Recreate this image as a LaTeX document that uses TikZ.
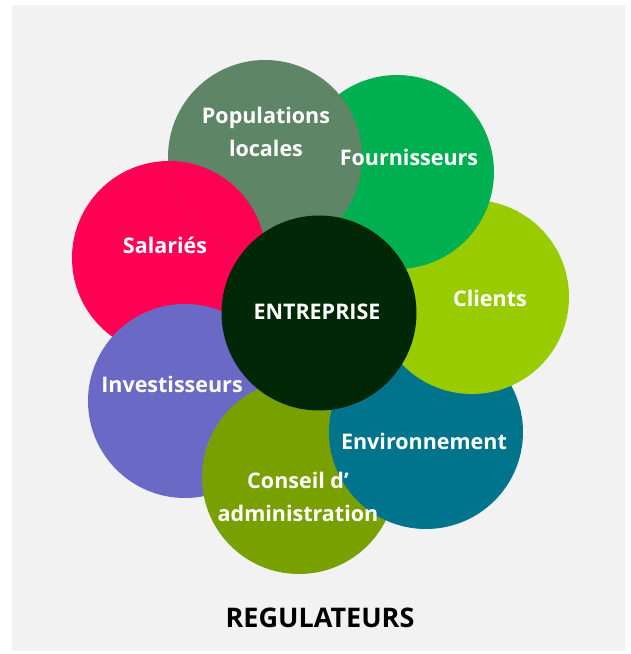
\documentclass[tikz,border=0pt]{standalone}
\usepackage{fontspec}
\setmainfont{Open Sans}
\definecolor{bgc}{HTML}{F2F2F2}
\definecolor{cpop}{HTML}{5E8566}
\definecolor{cfour}{HTML}{00B050}
\definecolor{ccli}{HTML}{99CC00}
\definecolor{cenv}{HTML}{00748C}
\definecolor{ccons}{HTML}{78A000}
\definecolor{cinv}{HTML}{6A6AC6}
\definecolor{csal}{HTML}{FF0055}
\definecolor{cent}{HTML}{002806}
\tikzset{
  disc/.style={circle, minimum size=194pt, inner sep=0pt, draw=none},
  lbl/.style={text=white, font=\fontsize{21.5}{33}\selectfont\bfseries, align=center, inner sep=0pt},
}
\begin{document}
\begin{tikzpicture}[x=1pt,y=-1pt]
\useasboundingbox (0,0) rectangle (630,654);
\fill[bgc] (12,5) rectangle (625,651);
% discs, bottom to top
\node[disc, fill=csal]  (sal)  at (169,258) {};
\node[disc, fill=cinv]  (inv)  at (185,401) {};
\node[disc, fill=ccons] (cons) at (299,477) {};
\node[disc, fill=cenv]  (env)  at (426,432) {};
\node[disc, fill=ccli]  (cli)  at (472,297) {};
\node[disc, fill=cfour] (four) at (397,172) {};
\node[disc, fill=cpop]  (pop)  at (265,157) {};
% Salaries over Populations
\begin{scope}
  \clip (265,157) circle (97);
  \fill[csal] (169,258) circle (97);
\end{scope}
\node[disc, fill=cent, minimum size=195pt] (ent) at (319,313) {};
% labels
\node[lbl] (tpop)  at (266,132) {Populations\\locales};
\node[lbl] (tfour) at (409,157) {Fournisseurs};
\node[lbl] (tcli)  at (490,298) {Clients};
\node[lbl] (tsal)  at (165,245) {Salariés};
\node[lbl] (tinv)  at (172,384) {Investisseurs};
\node[lbl] (tenv)  at (424,441) {Environnement};
\node[lbl] (tcons) at (298,497) {Conseil d’\\administration};
\node[lbl] (tent)  at (317,312) {ENTREPRISE};
\node[text=black, font=\fontsize{27}{30}\selectfont\bfseries, inner sep=0pt] (reg) at (320,618) {REGULATEURS};
\end{tikzpicture}
\end{document}
